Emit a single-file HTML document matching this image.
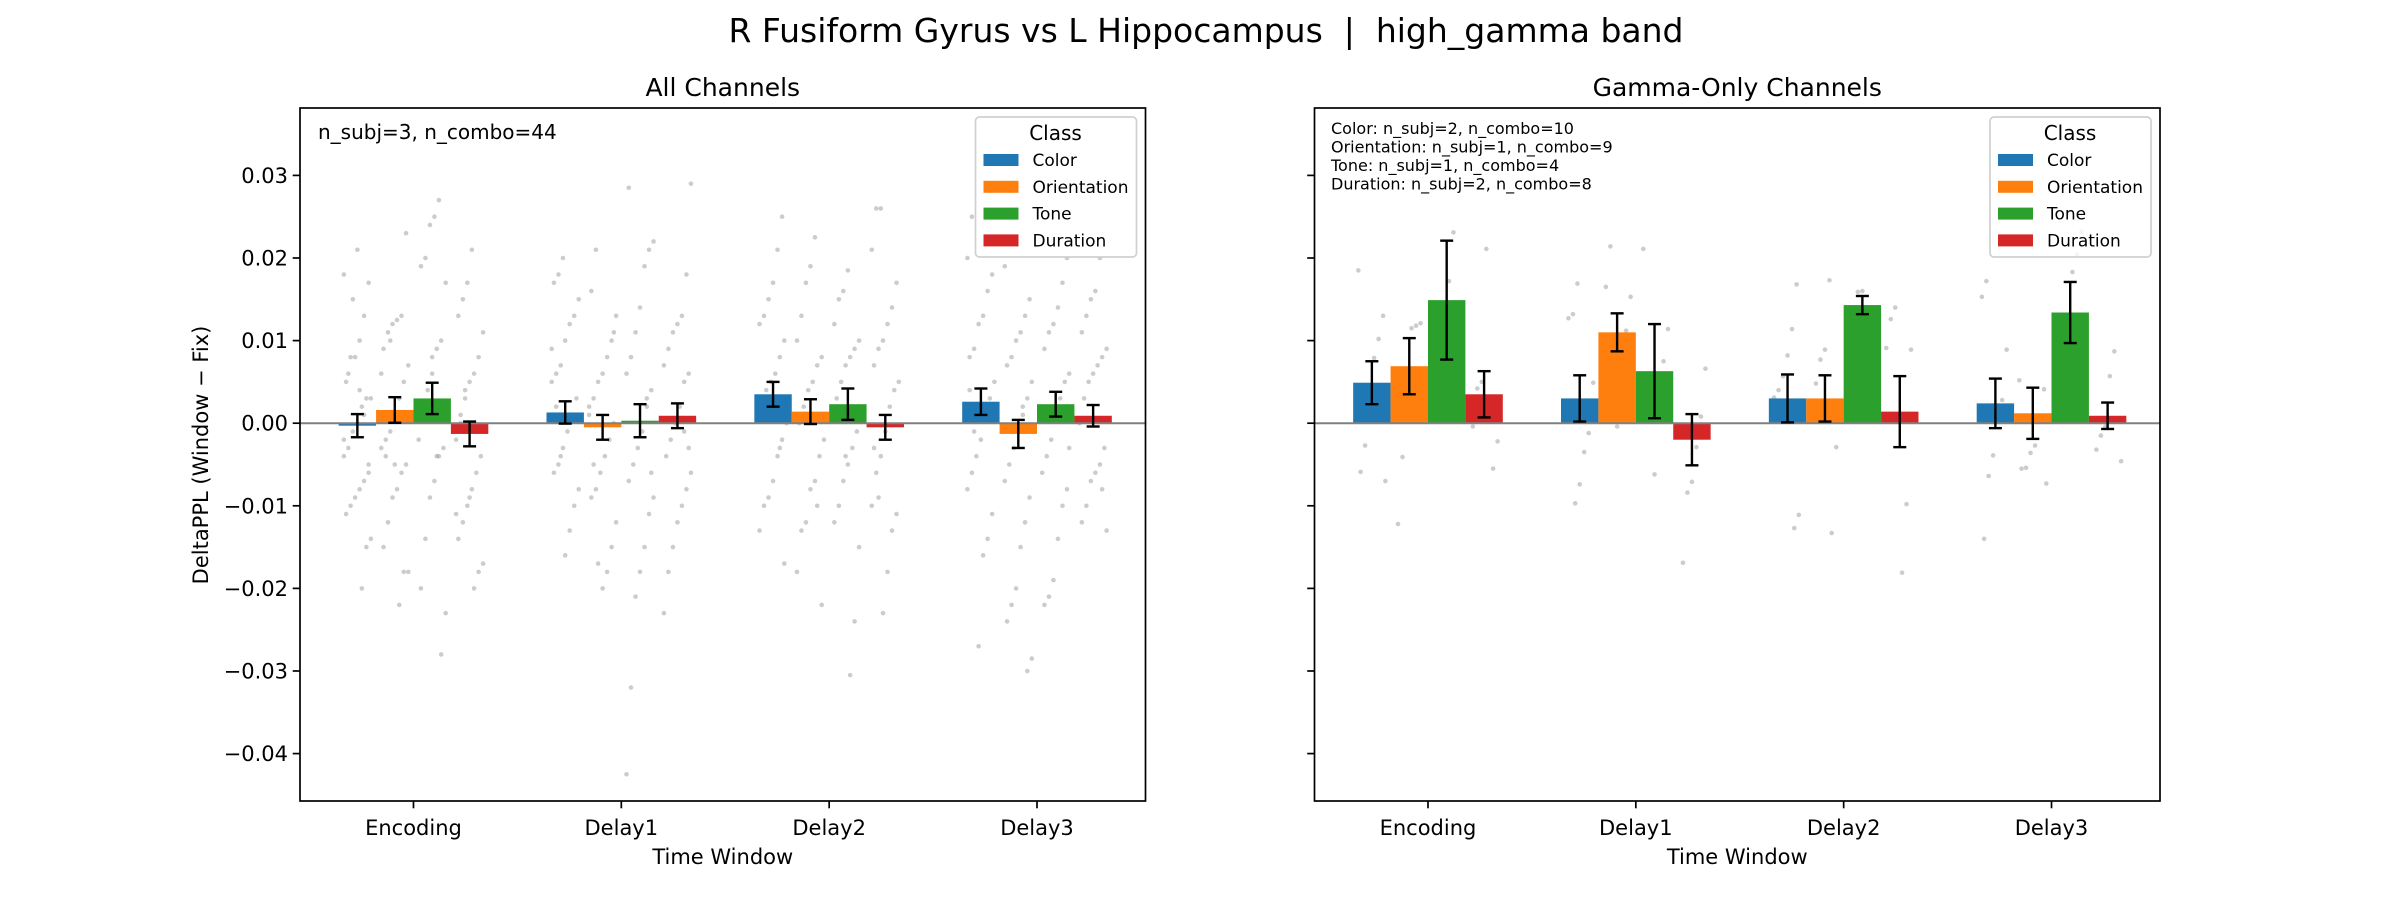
<!DOCTYPE html>
<html><head><meta charset="utf-8"><style>
html,body{margin:0;padding:0;background:#fff;}
svg{display:block;font-family:"DejaVu Sans","Liberation Sans",sans-serif;}
text{white-space:pre;}
</style></head><body>
<svg id="chart" width="2400" height="900" viewBox="0 0 2400 900" xmlns="http://www.w3.org/2000/svg">
<rect width="2400" height="900" fill="#fff"/>
<text x="1206" y="42" font-size="33" text-anchor="middle" fill="#000" xml:space="preserve">R Fusiform Gyrus vs L Hippocampus  |  high_gamma band</text>
<g id="root"></g>
</svg>
<script>
const categories = ["Encoding","Delay1","Delay2","Delay3"];
const classes = ["Color","Orientation","Tone","Duration"];
const colors = ["#1f77b4","#ff7f0e","#2ca02c","#d62728"];
const yTicks = [0.03,0.02,0.01,0.00,-0.01,-0.02,-0.03,-0.04];
const yTickLabels = ["0.03","0.02","0.01","0.00","\u22120.01","\u22120.02","\u22120.03","\u22120.04"];
// means [category][class]
const allMeans = [[-0.0003,0.0016,0.0030,-0.0013],[0.0013,-0.0005,0.0003,0.0009],[0.0035,0.0014,0.0023,-0.0005],[0.0026,-0.0013,0.0023,0.0009]];
const allErrs  = [[0.0014,0.00155,0.0019,0.0015],[0.00135,0.0015,0.0020,0.0015],[0.0015,0.0015,0.0019,0.0015],[0.0016,0.0017,0.0015,0.0013]];
const gamMeans = [[0.0049,0.0069,0.0149,0.0035],[0.0030,0.0110,0.0063,-0.0020],[0.0030,0.0030,0.0143,0.0014],[0.0024,0.0012,0.0134,0.0009]];
const gamErrs  = [[0.0026,0.0034,0.0072,0.0028],[0.0028,0.0023,0.0057,0.0031],[0.0029,0.0028,0.0011,0.0043],[0.0030,0.0031,0.0037,0.0016]];
// scatter points (x1e-3) [category][class]
const allPts = [
 [[18,17,13,10,8,8,5,3,3,2,0,-1,-3,-4,-6,-7,-8,-9,-10,-11,-14,-15,-20,21,15,6,-2,-5,1,4],
  [23,13,12.5,12,11,9,7,5,3,1,-1,-2,-3,-5,-6,-8,-9,-12,-15,-18,-18,-22,-5,10,-4,6],
  [27,25,24,20,19,17,10,9,6,4,1,-2,-3,-4,-7,-9,-14,-20,-23,-28,-4,8,2],
  [21,17,15,13,11,8,6,5,3,1,-2,-4,-6,-8,-10,-12,-14,-17,-18,-20,-9,4,0,-11]],
 [[20,18,17,15,13,12,10,7,6,5,3,1,-1,-3,-5,-6,-8,-10,-13,-16,-4,2,9],
  [21,16,13,10,8,6,5,3,2,0,-2,-4,-6,-8,-9,-12,-15,-18,-20,-17,-5,1,11],
  [28.5,22,21,19,14,11,8,6,4,2,-1,-3,-5,-7,-9,-11,-15,-18,-21,-32,-42.5,-6,3],
  [29,18,13,12,11,9,7,6,5,2,0,-2,-4,-6,-8,-10,-12,-15,-18,-23,-3,-1]],
 [[25,21,17,15,13,12,10,8,6,5,4,2,0,-2,-4,-7,-9,-10,-13,-17,-3,1],
  [22.5,19,17,13,10,8,7,5,4,2,0,-2,-4,-7,-8,-12,-13,-18,-22,-10],
  [18.5,16,15,12,10,9,8,7,5,3,1,-1,-3,-5,-7,-10,-12,-15,-24,-30.5,-4],
  [26,26,21,17,14,12,10,9,7,5,4,2,-1,-4,-6,-10,-11,-13,-18,-23,-9,-3]],
 [[25,20,18,16,13,12,9,8,5,3,1,-2,-4,-6,-8,-11,-14,-16,-27,-1,4],
  [19,15,13,11,10,8,7,5,3,1,-1,-3,-5,-7,-9,-12,-15,-20,-22,-24,-28.5,-30,2],
  [20,17,14,12,11,9,6,5,3,1,-2,-4,-6,-8,-10,-14,-19,-21,-22,-3],
  [20,16,15,13,11,9,8,7,6,5,3,0,-3,-5,-6,-7,-10,-12,-13,-8]]
];
const gamPts = [
 [[18.5,13,10.2,7.9,3.1,-2.7,-5.9,-7.0],[12.1,11.8,11.5,3.7,-4.1,-12.2],[23.1,17.2,13.4,10.1,5.4,2.9],[21.1,5,4.2,-0.4,-2.2,-5.5]],
 [[16.9,13.2,12.7,4.9,-1.2,-3.5,-7.4,-9.7],[21.4,16.5,15.3,11.2,1.9,-0.4],[21.1,11.4,7.5,2.8,-6.2],[6.6,0.8,-2.9,-7.1,-8.4,-16.9]],
 [[16.8,11.4,8.2,5.7,4,3.1,-11.1,-12.7],[17.3,8.9,7.7,4.8,1.9,-2.9,-13.3],[16,15.9,10.9],[14,12.6,9.1,8.9,-9.8,-18.1]],
 [[17.2,15.3,8.9,2.8,0.8,-3.9,-6.4,-14],[5.2,4.1,0.2,-2.7,-3.6,-5.4,-5.5,-7.3],[23.2,20.4,18.3,10.1,5.1],[8.7,5.7,-0.4,-1.5,-3.2,-4.6]]
];

const NS="http://www.w3.org/2000/svg";
const root=document.getElementById('root');
function mk(tag,attrs,parent,text){const e=document.createElementNS(NS,tag);for(const k in attrs)e.setAttribute(k,attrs[k]);if(text!==undefined)e.textContent=text;(parent||root).appendChild(e);return e;}

const YT=108,YB=801,YMAX=0.03816,YMIN=-0.04574;
const XMIN=-0.546,XMAX=3.522,BW=0.18,OFF=[-0.27,-0.09,0.09,0.27];
function yS(v){return YT+(YMAX-v)/(YMAX-YMIN)*(YB-YT);}

function panel(L,R,title,means,errs,pts,name,showYLabels){
  const g=mk('g',{});
  
  
  const xS=v=>L+(v-XMIN)/(XMAX-XMIN)*(R-L);
  const sg=mk('g',{},g);
  
  
  pts.forEach((cat,ci)=>cat.forEach((arr,k)=>arr.forEach((v,i)=>{
    const j=(((i*37+k*11+ci*5)%13)/12-0.5)*0.13;
    const c=mk('circle',{cx:xS(ci+OFF[k]+j),cy:yS(v/1000),r:2.3,fill:'#808080','fill-opacity':0.4},sg);
    
    
  })));
  means.forEach((cat,ci)=>cat.forEach((m,k)=>{
    const x0=xS(ci+OFF[k]-BW/2),x1=xS(ci+OFF[k]+BW/2);
    const y0=yS(Math.max(m,0)),y1=yS(Math.min(m,0));
    const b=mk('rect',{x:x0,y:y0,width:x1-x0,height:Math.max(y1-y0,0.5),fill:colors[k]},g);
    
    
  }));
  const z=mk('line',{x1:L,x2:R,y1:yS(0),y2:yS(0),stroke:'#808080','stroke-width':2},g);
  
  
  means.forEach((cat,ci)=>cat.forEach((m,k)=>{
    const cx=xS(ci+OFF[k]),e=errs[ci][k];
    const eg=mk('g',{stroke:'#000','stroke-width':2.4},g);
    
    
    mk('line',{x1:cx,x2:cx,y1:yS(m+e),y2:yS(m-e)},eg);
    mk('line',{x1:cx-6.5,x2:cx+6.5,y1:yS(m+e),y2:yS(m+e)},eg);
    mk('line',{x1:cx-6.5,x2:cx+6.5,y1:yS(m-e),y2:yS(m-e)},eg);
  }));
  const f=mk('rect',{x:L,y:YT,width:R-L,height:YB-YT,fill:'none',stroke:'#000','stroke-width':1.7},g);
  
  
  yTicks.forEach((t,i)=>{
    const y=yS(t);
    mk('line',{x1:L-7.3,x2:L,y1:y,y2:y,stroke:'#000','stroke-width':1.7},g);
    if(showYLabels){
      const tl=mk('text',{x:L-12,y:y+7.5,'font-size':21,'text-anchor':'end',fill:'#000'},g,yTickLabels[i]);
      
      
    }
  });
  categories.forEach((c,ci)=>{
    const x=xS(ci);
    mk('line',{x1:x,x2:x,y1:YB,y2:YB+7.3,stroke:'#000','stroke-width':1.7},g);
    const tl=mk('text',{x:x,y:835,'font-size':21,'text-anchor':'middle',fill:'#000'},g,c);
    
    
  });
  const xl=mk('text',{x:(L+R)/2,y:864,'font-size':21,'text-anchor':'middle',fill:'#000'},g,'Time Window');
  
  
  const tt=mk('text',{x:(L+R)/2,y:96,'font-size':25,'text-anchor':'middle',fill:'#000'},g,title);
  
  
  const lx=R-170,ly=117;
  const lg=mk('g',{},g);
  
  
  mk('rect',{x:lx,y:ly,width:161,height:140,rx:4,fill:'#fff','fill-opacity':0.8,stroke:'#d0d0d0','stroke-width':1.7},lg);
  mk('text',{x:lx+80,y:ly+23,'font-size':20,'text-anchor':'middle',fill:'#000'},lg,'Class');
  classes.forEach((c,k)=>{
    const cy=ly+43+k*26.8;
    const sw=mk('rect',{x:lx+8,y:cy-6,width:35,height:12,fill:colors[k]},lg);
    
    
    const lt=mk('text',{x:lx+57,y:cy+6,'font-size':17,fill:'#000'},lg,c);
    
    
  });
  return g;
}
panel(300,1145.5,'All Channels',allMeans,allErrs,allPts,'panel-all-channels',true);
panel(1314.5,2160,'Gamma-Only Channels',gamMeans,gamErrs,gamPts,'panel-gamma-only',false);

const yl=mk('text',{x:0,y:0,'font-size':21,'text-anchor':'middle',fill:'#000',transform:'translate(208,455) rotate(-90)'},root,'DeltaPPL (Window \u2212 Fix)');


const a1=mk('text',{x:318,y:139,'font-size':20,fill:'#000'},root,'n_subj=3, n_combo=44');


const annLines=["Color: n_subj=2, n_combo=10","Orientation: n_subj=1, n_combo=9","Tone: n_subj=1, n_combo=4","Duration: n_subj=2, n_combo=8"];
annLines.forEach((s,i)=>{
  const t=mk('text',{x:1331,y:134+i*18.5,'font-size':16,fill:'#000'},root,s);
  
  
});
</script>
</body></html>
